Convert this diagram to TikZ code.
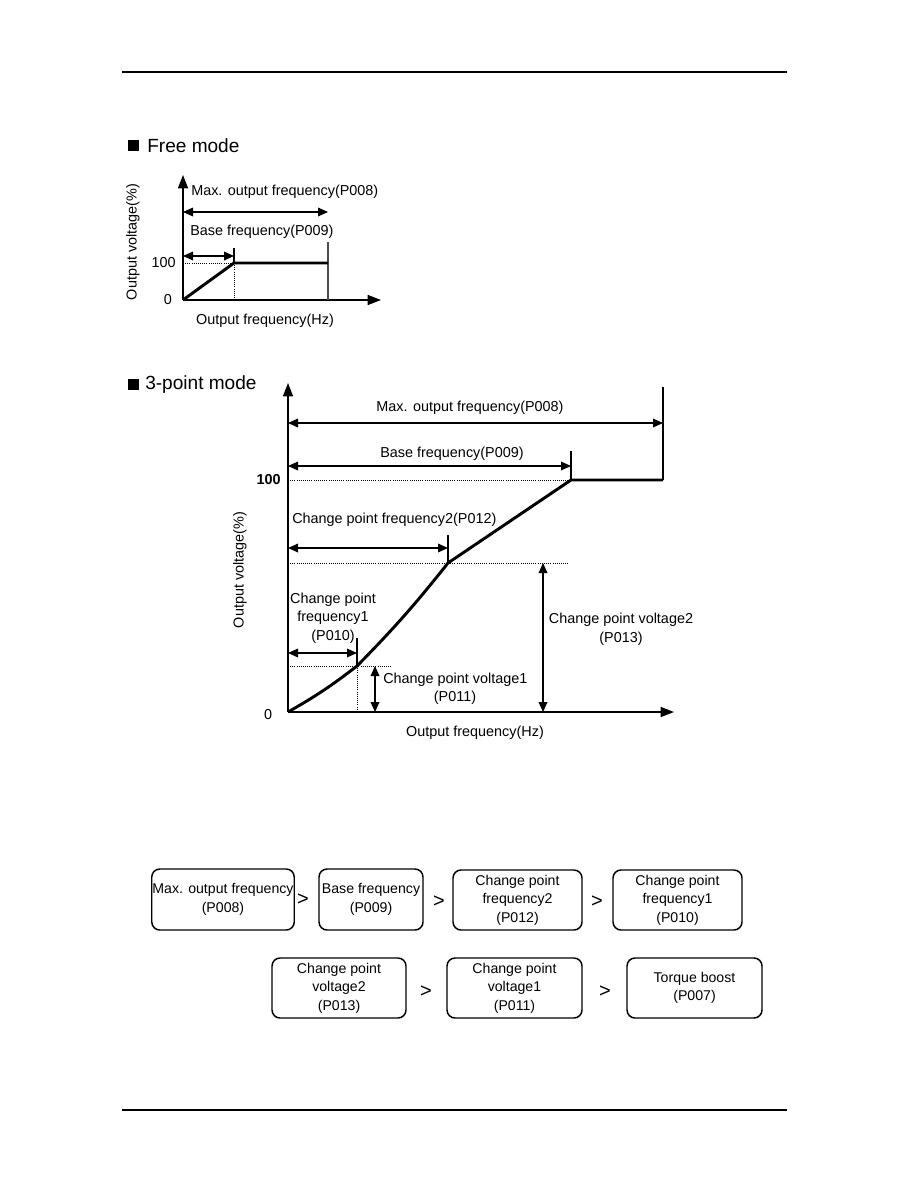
\documentclass[tikz,border=0pt]{standalone}
\usepackage{fontspec}
\setmainfont{Liberation Sans}
\usetikzlibrary{arrows.meta}
\begin{document}
\begin{tikzpicture}[x=0.75pt,y=-0.75pt,
  lbl/.style={font=\fontsize{10.8}{14}\selectfont, inner sep=0pt},
  ttl/.style={font=\fontsize{14.3}{17}\selectfont, inner sep=0pt, anchor=west},
  bullet/.style={fill=black, draw=none, minimum size=8.3pt, inner sep=0pt},
  axis/.style={line width=1.1pt, -{Triangle[length=10pt,width=7.5pt]}},
  dim/.style={line width=0.9pt, {Triangle[length=7.5pt,width=6.5pt]}-{Triangle[length=7.5pt,width=6.5pt]}},
  curve/.style={line width=2.2pt, line join=round},
  guide/.style={line width=0.6pt, densely dotted},
  tick/.style={line width=0.8pt},
  rule/.style={line width=1.3pt},
  box/.style={draw, line width=1.1pt, rounded corners=6pt, align=center,
     font=\fontsize{10.6}{13.9}\selectfont, inner xsep=0.5pt, inner ysep=0pt,
     execute at begin node={\rule{0pt}{12.5pt}}},
  gt/.style={font=\fontsize{15}{17}\selectfont, inner sep=0pt}
]
\useasboundingbox (0,0) rectangle (918,1188);

% page rules
\draw[rule] (122,72) -- (787,72);
\draw[rule] (122,1110) -- (787,1110);

% ===== Free mode =====
\node[bullet] (b1) at (133.5,145.5) {};
\node[ttl] (t1) at (147,146) {Free mode};

\coordinate (fO) at (183,300);
\coordinate (fYt) at (183,175);
\coordinate (fXt) at (381,300);
\coordinate (fB) at (234,263);
\coordinate (fM) at (328,263);
\coordinate (fBtop) at (234,248);
\coordinate (fMtop) at (328,242);
\coordinate (fBbot) at (234,300);
\coordinate (fMbot) at (328,300);

\draw[axis] (fO) -- (fYt);
\draw[axis] (fO) -- (fXt);
\draw[guide] (fO |- fB) -- (fB);
\draw[guide] (fB) -- (fBbot);
\draw[tick] (fBtop) -- (fB);
\draw[tick, draw=black!70] (fMtop) -- (fMbot);
\draw[curve] (fO) -- (fB) -- (fM);
\draw[dim] (183,212) -- (fMtop |- 0,212);
\draw[dim] (183,256) -- (fBtop |- 0,256);

\node[lbl, anchor=west] (fmax) at (191,192) {Max. output frequency(P008)};
\node[lbl, anchor=west] (fbase) at (190,232) {Base frequency(P009)};
\node[lbl, anchor=east] (f100) at (176,263) {100};
\node[lbl] (f0) at (168,300) {0};
\node[lbl, rotate=90] (fyl) at (133,242) {Output voltage(\%)};
\node[lbl] (fxl) at (265,321) {Output frequency(Hz)};

% ===== 3-point mode =====
\node[bullet] (b2) at (133.5,384.5) {};
\node[ttl] (t2) at (145,385) {3-point mode};

\coordinate (O) at (288,712);
\coordinate (Yt) at (288,383);
\coordinate (Xt) at (674,712);
\coordinate (P1) at (357,666);
\coordinate (P2) at (448,563);
\coordinate (P3) at (571,480);
\coordinate (P4) at (663,480);

\draw[axis] (O) -- (Yt);
\draw[axis] (O) -- (Xt);

% guides
\draw[guide] (O |- P3) -- (P3);
\draw[guide] (O |- P2) -- (568,563);
\draw[guide] (O |- P1) -- (392,666);
\draw[guide] (P1) -- (P1 |- O);

% ticks
\draw[tick] (663,387) -- (P4);
\draw[tick] (571,451) -- (P3);
\draw[tick] (448,535) -- (P2);
\draw[tick] (357,638) -- (P1);

% characteristic
\draw[curve] (O) to[bend right=4] (P1) to[bend right=3] (P2) -- (P3) -- (P4);

% dimension arrows
\draw[dim] (288,423) -- (663,423);
\draw[dim] (288,466) -- (571,466);
\draw[dim] (288,548) -- (448,548);
\draw[dim] (288,653) -- (357,653);
\draw[dim] (375,666) -- (375,712);
\draw[dim] (543,563) -- (543,712);

% labels
\node[lbl] (lmax) at (470,408) {Max. output frequency(P008)};
\node[lbl] (lbase) at (452,454) {Base frequency(P009)};
\node[lbl, anchor=west] (lcf2) at (292,520) {Change point frequency2(P012)};
\node[lbl, align=center] (lcf1) at (333,618) {Change point\\frequency1\\(P010)};
\node[lbl, anchor=west] (lcv1) at (383,680) {Change point voltage1};
\node[lbl] (lcv1b) at (455,698) {(P011)};
\node[lbl, align=center] (lcv2) at (621,629) {Change point voltage2\\(P013)};
\node[lbl, anchor=east, font=\fontsize{10.8}{14}\bfseries] (l100) at (281,480) {100};
\node[lbl] (l0) at (268,715) {0};
\node[lbl, rotate=90] (lyl) at (240,570) {Output voltage(\%)};
\node[lbl] (lxl) at (475,733) {Output frequency(Hz)};

% ===== order boxes =====
\node[box, minimum width=106.5pt, minimum height=45.75pt] (k1) at (223,899.5) {Max. output frequency\\(P008)};
\node[box, minimum width=78pt, minimum height=45.75pt] (k2) at (371,899.5) {Base frequency\\(P009)};
\node[box, minimum width=96.75pt, minimum height=45pt] (k3) at (517.5,900) {Change point\\frequency2\\(P012)};
\node[box, minimum width=96.75pt, minimum height=45pt] (k4) at (677.5,900) {Change point\\frequency1\\(P010)};
\node[box, minimum width=100.5pt, minimum height=45pt] (k5) at (339,988) {Change point\\voltage2\\(P013)};
\node[box, minimum width=101.25pt, minimum height=45pt] (k6) at (514.5,988) {Change point\\voltage1\\(P011)};
\node[box, minimum width=101.25pt, minimum height=45pt] (k7) at (694.5,988) {Torque boost\\(P007)};

\node[gt] (g1) at (303,900) {>};
\node[gt] (g2) at (439,902) {>};
\node[gt] (g3) at (597,902) {>};
\node[gt] (g4) at (426,992) {>};
\node[gt] (g5) at (605,992) {>};
\end{tikzpicture}
\end{document}
